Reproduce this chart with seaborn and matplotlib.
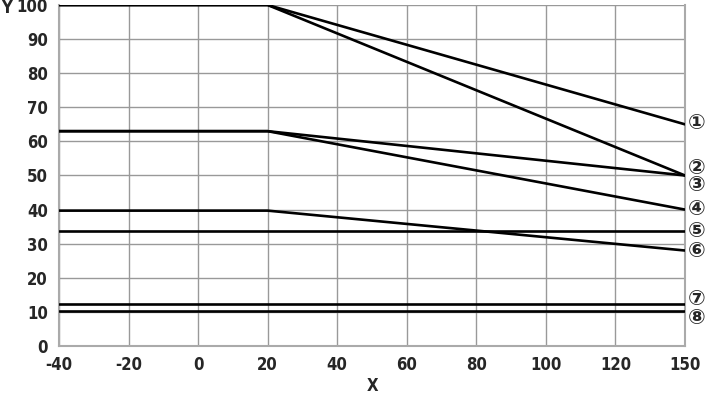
import matplotlib
matplotlib.use("Agg")
import matplotlib.pyplot as plt
import seaborn as sns
import pandas as pd
import numpy as np

# Data
x_points = [-40, 20, 150]
series_names = ["①", "②", "③", "④", "⑤", "⑥", "⑦", "⑧"]
s1 = [100, 100, 65]
s2 = [100, 100, 50]
s3 = [63, 63, 50]
s4 = [63, 63, 40]
s5 = [33.7, 33.7, 33.7]
s6 = [39.7, 39.7, 28]
s7 = [12.3, 12.3, 12.3]
s8 = [10.3, 10.3, 10.3]
series_values = [s1, s2, s3, s4, s5, s6, s7, s8]
label_y = [65.5, 52.2, 47.2, 40.1, 33.8, 27.8, 13.8, 8.2]
x_ticks = [-40, -20, 0, 20, 40, 60, 80, 100, 120, 150]
y_ticks = [0, 10, 20, 30, 40, 50, 60, 70, 80, 90, 100]

rows = []
for name, vals in zip(series_names, series_values):
    for xv, yv in zip(x_points, vals):
        rows.append({"x": xv, "y": yv, "series": name})
df = pd.DataFrame(rows)

sns.set_style("white")
plt.rcParams['font.family'] = ['DejaVu Sans', 'Noto Sans CJK SC']


# Axis: evenly spaced ticks, last interval 120..150 compressed to one step
def fwd(x):
    x = np.asarray(x, dtype=float)
    return np.where(x <= 120, x, 120 + (x - 120) * (20.0 / 30.0))


def inv(u):
    u = np.asarray(u, dtype=float)
    return np.where(u <= 120, u, 120 + (u - 120) * (30.0 / 20.0))


fig = plt.figure(figsize=(7.08, 3.96), dpi=100)
ax = fig.add_axes([59/708, 1-346/396, (685-59)/708, (346-5)/396])
ax.set_xscale("function", functions=(fwd, inv))

for gx in x_ticks:
    ax.axvline(gx, color="#999999", lw=1, zorder=0)
for gy in y_ticks:
    ax.axhline(gy, color="#999999", lw=1, zorder=0)

sns.lineplot(data=df, x="x", y="y", hue="series", units="series", estimator=None,
             palette=["black"] * len(series_names), legend=False, lw=1.9, ax=ax,
             sort=False, zorder=3)

tick_font = dict(fontweight="bold", fontsize=12, fontstretch="condensed")
ax.set_xlim(-40, 150)
ax.set_ylim(0, 100)
ax.set_xticks(x_ticks)
ax.set_yticks(y_ticks)
ax.set_xticklabels([str(t) for t in x_ticks], **tick_font)
ax.set_yticklabels([str(t) for t in y_ticks], **tick_font)
ax.tick_params(axis="x", length=0, pad=7)
ax.tick_params(axis="y", length=0, pad=8)
ax.set_xlabel("")
ax.set_ylabel("")
for sp in ax.spines.values():
    sp.set_color("#aaaaaa")
    sp.set_linewidth(1.5)
ax.spines["top"].set_visible(False)

trans = ax.get_yaxis_transform()
for name, ly in zip(series_names, label_y):
    ax.text((697-59)/626, ly, name, fontsize=15, va="center", ha="center",
            clip_on=False, transform=trans, fontweight="bold",
            family=['DejaVu Sans', 'Noto Sans CJK SC'])

fig.text(372/708, 1-386/396, "X", ha="center", va="center", **tick_font)
fig.text(7/708, 1-8/396, "Y", ha="center", va="center", **tick_font)

fig.savefig("out.png", dpi=100)
